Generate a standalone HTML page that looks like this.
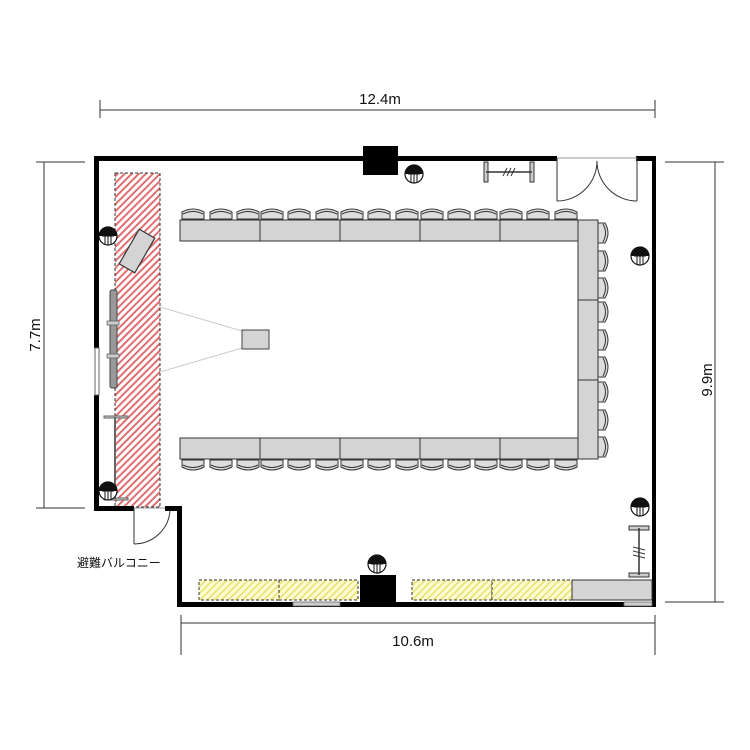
<!DOCTYPE html>
<html><head><meta charset="utf-8"><style>
html,body{margin:0;padding:0;background:#fff;}
svg{display:block;}
text{font-family:"Liberation Sans","Noto Sans CJK JP",sans-serif;fill:#111;}
</style></head><body>
<svg width="750" height="750" viewBox="0 0 750 750" xmlns="http://www.w3.org/2000/svg">
<defs>
<pattern id="red" patternUnits="userSpaceOnUse" width="5" height="5" patternTransform="rotate(45)">
<rect width="5" height="5" fill="#fff"/><rect width="2" height="5" fill="#e07070"/></pattern>
<pattern id="yel" patternUnits="userSpaceOnUse" width="5" height="5" patternTransform="rotate(45)">
<rect width="5" height="5" fill="#fdfbd0"/><rect width="1.5" height="5" fill="#e8e070"/></pattern>
<g id="ct"><path d="M0,11 V4 Q11,-2 22,4 V11 Z" fill="#ddd" stroke="#333" stroke-width="1"/><path d="M1,6 Q11,1 21,6" fill="none" stroke="#333" stroke-width="1"/></g>
<g id="cb"><path d="M0,0 V7 Q11,13 22,7 V0 Z" fill="#ddd" stroke="#333" stroke-width="1"/><path d="M1,5 Q11,10 21,5" fill="none" stroke="#333" stroke-width="1"/></g>
<g id="cr"><path d="M0,0 H7 Q13,10 7,20 H0 Z" fill="#ddd" stroke="#333" stroke-width="1"/><path d="M5,1 Q10,10 5,19" fill="none" stroke="#333" stroke-width="1"/></g>
<g id="out"><circle r="9" fill="#fff" stroke="#111" stroke-width="1.2"/><path d="M-9,0 A9,9 0 0 1 9,0 Z" fill="#111"/><line x1="-6" y1="0" x2="6" y2="0" stroke="#111"/><line x1="-3" y1="0" x2="-3" y2="8" stroke="#111"/><line x1="0" y1="0" x2="0" y2="9" stroke="#111"/><line x1="3" y1="0" x2="3" y2="8" stroke="#111"/></g>
</defs>

<!-- dimension lines -->
<g stroke="#333" stroke-width="1">
<line x1="100" y1="110" x2="655" y2="110"/><line x1="100" y1="100" x2="100" y2="118"/><line x1="655" y1="100" x2="655" y2="118"/>
<line x1="44" y1="162" x2="44" y2="508"/><line x1="36" y1="162" x2="85" y2="162"/><line x1="36" y1="508" x2="85" y2="508"/>
<line x1="715" y1="162" x2="715" y2="602"/><line x1="665" y1="162" x2="724" y2="162"/><line x1="665" y1="602" x2="724" y2="602"/>
<line x1="181" y1="623" x2="655" y2="623"/><line x1="181" y1="615" x2="181" y2="655"/><line x1="655" y1="615" x2="655" y2="655"/>
</g>
<text x="380" y="104" font-size="15" text-anchor="middle">12.4m</text>
<text x="413" y="646" font-size="15" text-anchor="middle">10.6m</text>
<text transform="translate(40,335) rotate(-90)" font-size="15" text-anchor="middle">7.7m</text>
<text transform="translate(712,380) rotate(-90)" font-size="15" text-anchor="middle">9.9m</text>

<!-- red zone -->
<rect x="115" y="173" width="45" height="334" fill="url(#red)" stroke="#333" stroke-dasharray="3,2" stroke-width="1"/>

<!-- walls -->
<g fill="#000">
<rect x="94" y="156" width="463" height="5"/>
<rect x="636" y="156" width="20" height="5"/>
<rect x="652" y="156" width="4" height="451"/>
<rect x="94" y="156" width="5" height="192"/>
<rect x="94" y="395" width="5" height="115"/>
<rect x="94" y="506" width="40" height="5"/>
<rect x="165" y="506" width="17" height="5"/>
<rect x="177" y="506" width="5" height="101"/>
<rect x="177" y="602" width="479" height="5"/>
</g>
<rect x="95" y="348" width="4" height="47" fill="#fff" stroke="#666" stroke-width="1"/>
<rect x="293" y="602" width="47" height="4" fill="#ccc" stroke="#666" stroke-width="0.8"/>
<rect x="624" y="602" width="28" height="4" fill="#ccc" stroke="#666" stroke-width="0.8"/>
<line x1="557" y1="158" x2="637" y2="158" stroke="#999"/>
<line x1="134" y1="508" x2="165" y2="508" stroke="#999"/>

<!-- doors -->
<g fill="none" stroke="#333" stroke-width="1">
<path d="M557,158 V201 M557,201 A40,40 0 0 0 597,161"/>
<path d="M637,158 V201 M637,201 A40,40 0 0 1 597,161"/>
<path d="M134,508 V544 M134,544 A36,36 0 0 0 170,510"/>
</g>

<!-- black blocks -->
<rect x="363" y="146" width="35" height="29" fill="#000"/>
<rect x="360" y="575" width="36" height="30" fill="#000"/>

<!-- coat rack top -->
<g stroke="#333" stroke-width="1">
<rect x="484" y="162" width="4" height="20" fill="#ccc"/><rect x="530" y="162" width="4" height="20" fill="#ccc"/>
<line x1="486" y1="172" x2="532" y2="172" stroke-width="1.5"/>
<line x1="503" y1="176" x2="507" y2="168"/><line x1="507" y1="176" x2="511" y2="168"/><line x1="511" y1="176" x2="515" y2="168"/>
</g>
<!-- coat rack right -->
<g stroke="#333" stroke-width="1">
<rect x="629" y="526" width="20" height="4" fill="#ccc"/><rect x="629" y="573" width="20" height="4" fill="#ccc"/>
<line x1="639" y1="528" x2="639" y2="575" stroke-width="1.5"/>
<line x1="633" y1="547" x2="645" y2="550"/><line x1="633" y1="551" x2="645" y2="554"/><line x1="633" y1="555" x2="645" y2="558"/>
</g>
<!-- coat rack left -->
<g stroke="#666" stroke-width="1">
<rect x="104" y="416" width="24" height="2" fill="#ccc"/><rect x="104" y="498" width="24" height="2" fill="#ccc"/>
<line x1="115" y1="417" x2="115" y2="499" stroke-width="2"/>
</g>

<!-- screen and projector -->
<rect transform="translate(137,251) rotate(30)" x="-9" y="-20" width="18" height="40" fill="#d4d4d4" stroke="#333" stroke-width="1.2"/>
<rect x="110" y="290" width="7" height="98" rx="2" fill="#999" stroke="#444"/>
<rect x="107" y="321" width="12" height="4" fill="#ccc" stroke="#555" stroke-width="0.7"/>
<rect x="107" y="354" width="12" height="4" fill="#ccc" stroke="#555" stroke-width="0.7"/>
<g stroke="#ccc" stroke-width="1"><line x1="160" y1="307" x2="242" y2="331"/><line x1="160" y1="372" x2="242" y2="348"/></g>
<rect x="242" y="330" width="27" height="19" fill="#d4d4d4" stroke="#444"/>

<!-- tables -->
<g fill="#d4d4d4" stroke="#333" stroke-width="1">
<rect x="180" y="220" width="80" height="21"/><rect x="260" y="220" width="80" height="21"/><rect x="340" y="220" width="80" height="21"/><rect x="420" y="220" width="80" height="21"/><rect x="500" y="220" width="78" height="21"/>
<rect x="180" y="438" width="80" height="21"/><rect x="260" y="438" width="80" height="21"/><rect x="340" y="438" width="80" height="21"/><rect x="420" y="438" width="80" height="21"/><rect x="500" y="438" width="78" height="21"/>
<rect x="578" y="220" width="20" height="80"/><rect x="578" y="300" width="20" height="80"/><rect x="578" y="380" width="20" height="79"/>
</g>

<!-- chairs -->
<g>
<use href="#ct" x="182" y="208"/><use href="#ct" x="210" y="208"/><use href="#ct" x="237" y="208"/><use href="#ct" x="261" y="208"/><use href="#ct" x="288" y="208"/><use href="#ct" x="316" y="208"/><use href="#ct" x="341" y="208"/><use href="#ct" x="368" y="208"/><use href="#ct" x="396" y="208"/><use href="#ct" x="421" y="208"/><use href="#ct" x="448" y="208"/><use href="#ct" x="475" y="208"/><use href="#ct" x="500" y="208"/><use href="#ct" x="527" y="208"/><use href="#ct" x="555" y="208"/>
<use href="#cb" x="182" y="460"/><use href="#cb" x="210" y="460"/><use href="#cb" x="237" y="460"/><use href="#cb" x="261" y="460"/><use href="#cb" x="288" y="460"/><use href="#cb" x="316" y="460"/><use href="#cb" x="341" y="460"/><use href="#cb" x="368" y="460"/><use href="#cb" x="396" y="460"/><use href="#cb" x="421" y="460"/><use href="#cb" x="448" y="460"/><use href="#cb" x="475" y="460"/><use href="#cb" x="500" y="460"/><use href="#cb" x="527" y="460"/><use href="#cb" x="555" y="460"/>
<use href="#cr" x="598" y="223"/><use href="#cr" x="598" y="251"/><use href="#cr" x="598" y="278"/><use href="#cr" x="598" y="302"/><use href="#cr" x="598" y="330"/><use href="#cr" x="598" y="357"/><use href="#cr" x="598" y="382"/><use href="#cr" x="598" y="410"/><use href="#cr" x="598" y="437"/>
</g>

<!-- outlets -->
<use href="#out" x="414" y="174"/><use href="#out" x="108" y="236"/><use href="#out" x="640" y="256"/><use href="#out" x="108" y="491"/><use href="#out" x="377" y="564"/><use href="#out" x="640" y="507"/>

<!-- bottom tables -->
<g stroke="#333" stroke-dasharray="3,2" stroke-width="1" fill="url(#yel)">
<rect x="199" y="580" width="80" height="20"/><rect x="279" y="580" width="79" height="20"/>
<rect x="412" y="580" width="80" height="20"/><rect x="492" y="580" width="80" height="20"/>
</g>
<rect x="572" y="580" width="80" height="20" fill="#d4d4d4" stroke="#333"/>

<text x="77" y="567" font-size="12">避難バルコニー</text>
</svg>
</body></html>
